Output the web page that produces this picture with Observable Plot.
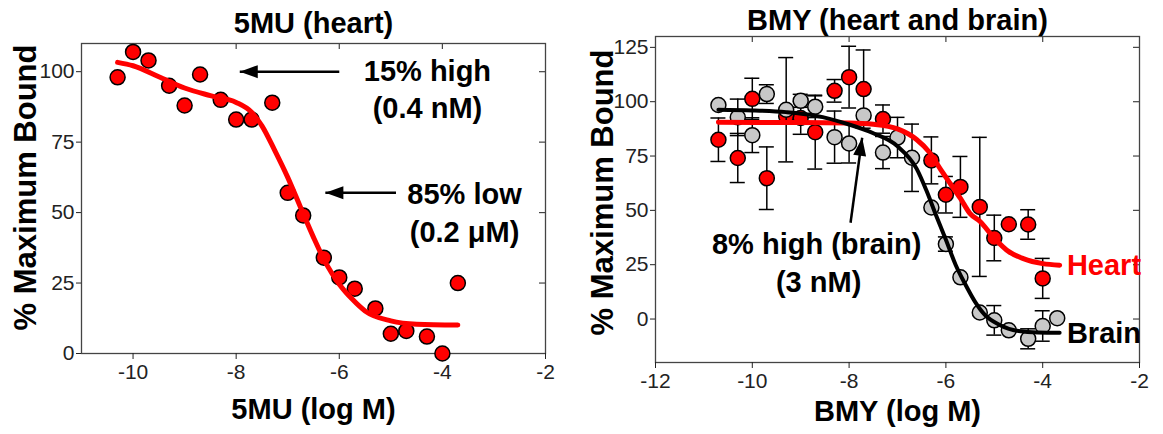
<!DOCTYPE html>
<html>
<head>
<meta charset="utf-8">
<script src="https://cdn.jsdelivr.net/npm/d3@7"></script>
<script src="https://cdn.jsdelivr.net/npm/@observablehq/plot@0.6"></script>
<style>
  html, body { margin: 0; padding: 0; background: #fff; }
  #root { position: relative; width: 1163px; height: 434px; overflow: hidden; }
  #root svg { position: absolute; top: 0; }
</style>
</head>
<body>
<div id="root"></div>
<script>
// ---------- Left panel: 5MU (heart) ----------
const fmuLogM = [-10.3, -10, -9.7, -9.3, -9, -8.7, -8.3, -8, -7.7, -7.3, -7, -6.7, -6.3, -6, -5.7, -5.3, -5, -4.7, -4.3, -4, -3.7];
const fmuBound = [98, 107, 104, 95, 88, 99, 90, 83, 83, 89, 57, 49, 34, 27, 23, 16, 7, 8, 6, 0, 25];
const fmuFitLogM = [-10.3, -10, -9.5, -9, -8.5, -8, -7.7, -7.5, -7.25, -7, -6.75, -6.5, -6.25, -6, -5.75, -5.5, -5, -4.5, -3.7];
const fmuFitBound = [103.3, 102.1, 98.2, 94.2, 91.5, 89.1, 85.6, 80.8, 72, 62.5, 51.8, 41.2, 31.7, 24.6, 19.3, 15.1, 11.6, 10.4, 10.1];
const fmuXTicks = [-10, -8, -6, -4, -2];
const fmuYTicks = [0, 25, 50, 75, 100];
const fmuNotes = ["15% high", "(0.4 nM)", "85% low", "(0.2 \u03BCM)"];
const fmuNoteX = [-4.29, -4.29, -3.57, -3.57];
const fmuNoteY = [100, 86.7, 56.2, 43];
const fmuArrowFrom = [[-6, 100], [-4.9, 57]];
const fmuArrowTo = [[-7.93, 100], [-6.27, 57]];

// ---------- Right panel: BMY (heart and brain) ----------
const bmyHeartLogM = [-10.7, -10.3, -10, -9.7, -9.3, -9, -8.7, -8.3, -8, -7.7, -7.3, -6.3, -6, -5.7, -5.3, -5, -4.7, -4.3, -4];
const bmyHeartBound = [82.5, 74.1, 101.3, 64.8, 93.3, 92.5, 86, 105, 111.3, 105.8, 92, 73, 57.2, 60.8, 51.6, 37.3, 43.6, 43.5, 18.7];
const bmyHeartErr = [10, 11.3, 9.5, 14.4, 0, 7.5, 17, 5.2, 14.2, 18, 6.5, 10.8, 8.4, 14, 32, 10.5, 0, 6.8, 9.2];
const bmyBrainLogM = [-10.7, -10.3, -10, -9.7, -9.3, -9, -8.7, -8.3, -8, -7.7, -7.3, -7, -6.7, -6.3, -6, -5.7, -5.3, -5, -4.7, -4.3, -4, -3.7];
const bmyBrainBound = [98.5, 92.8, 84.6, 103.5, 96.3, 100.4, 97.7, 83.7, 80.8, 93.7, 76.6, 83.5, 74.2, 51.3, 34.5, 19.2, 3.0, -0.6, -5.2, -9.1, -3.2, 0.4];
const bmyBrainErr = [0, 8.4, 8, 4.3, 24, 3, 5, 12, 9, 0, 7.4, 9.3, 15.5, 0, 3.3, 0, 0, 6.8, 0, 4.6, 7, 0];
const heartFitLogM = [-10.7, -9, -8, -7.5, -7, -6.6, -6.35, -6.1, -5.9, -5.7, -5.5, -5.3, -5, -4.7, -4.4, -4, -3.65];
const heartFitBound = [90.5, 90.4, 90.2, 89.6, 87.5, 82.5, 77, 68.5, 62, 55.5, 48.5, 45, 37.2, 31, 27.8, 25.5, 24.8];
const brainFitLogM = [-10.7, -10, -9.3, -8.7, -8, -7.5, -7, -6.6, -6.4, -6.2, -6, -5.8, -5.6, -5.4, -5.2, -4.9, -4.5, -4.1, -3.65];
const brainFitBound = [96.3, 96, 95.2, 93.6, 89.5, 85.5, 79.5, 69, 59, 47.5, 36.5, 25, 16, 8, 2, -2.6, -5.5, -6.2, -6.3];
const bmyXTicks = [-12, -10, -8, -6, -4, -2];
const bmyYTicks = [0, 25, 50, 75, 100, 125];
const bmyNotes = ["8% high (brain)", "(3 nM)"];
const bmyNoteX = [-8.67, -8.63];
const bmyNoteY = [34.1, 16.6];
const bmyArrowFrom = [-7.97, 44.3];
const bmyArrowTo = [-7.73, 83.4];
const seriesLabels = ["Heart", "Brain"];
const seriesLabelX = [-3.5, -3.5];
const seriesLabelY = [24.4, -6.9];

// ---------- helpers ----------
const FONT = '"Liberation Sans", Arial, Helvetica, sans-serif';
const RED = "#ff0000";
const GREY = "#c8c8c8";
const zip = (xs, ys, extra = {}) => xs.map((x, i) => {
  const o = {x, y: ys[i]};
  for (const k in extra) o[k] = extra[k][i];
  return o;
});
const arrowHead = {
  draw(ctx) {
    ctx.moveTo(0, 0);
    ctx.lineTo(18, -6.5);
    ctx.lineTo(18, 6.5);
    ctx.closePath();
  }
};
const fmt = d => String(d);
const tickStyle = {fontSize: 21, color: "#222", tickFormat: fmt, label: null};

function frameMarks(xTicksIn, yTicksIn, fw, fh) {
  return [
    Plot.tickX(xTicksIn, {x: d => d, insetBottom: fh - 6, stroke: "#444", strokeWidth: 1.2}),
    Plot.tickY(yTicksIn, {y: d => d, insetLeft: fw - 6, stroke: "#444", strokeWidth: 1.2}),
    Plot.frame({stroke: "#444", strokeWidth: 1.3})
  ];
}

function titleMarks(title, xTitle, titleDy, xTitleDy, yTitleDx, yTitleDy) {
  const bold = {fontWeight: "bold", fill: "#000", fontSize: 29, text: d => d, textAnchor: "middle"};
  return [
    Plot.text([title], {...bold, frameAnchor: "top", dy: titleDy, lineAnchor: "bottom"}),
    Plot.text([xTitle], {...bold, frameAnchor: "bottom", dy: xTitleDy, lineAnchor: "bottom"}),
    Plot.text(["% Maximum Bound"], {...bold, fontSize: 31, frameAnchor: "left", rotate: -90, dx: yTitleDx, dy: yTitleDy, lineAnchor: "bottom"})
  ];
}

// ---------- left plot ----------
const fmuPts = zip(fmuLogM, fmuBound);
const fmuFit = zip(fmuFitLogM, fmuFitBound);
const fmuNoteData = zip(fmuNoteX, fmuNoteY, {t: fmuNotes});
const fmuArrows = fmuArrowFrom.map((f, i) => ({x1: f[0], y1: f[1], x2: fmuArrowTo[i][0], y2: fmuArrowTo[i][1]}));

const left = Plot.plot({
  width: 590, height: 434,
  marginLeft: 81, marginRight: 45, marginTop: 43, marginBottom: 81,
  style: {fontFamily: FONT, background: "transparent", overflow: "visible"},
  x: {domain: [-11, -2]},
  y: {domain: [0, 110]},
  marks: [
    ...frameMarks([-10, -8, -6, -4], [25, 50, 75, 100], 464, 310),
    Plot.axisX(fmuXTicks, {...tickStyle, tickSize: 6, tickPadding: 5}),
    Plot.axisY(fmuYTicks, {...tickStyle, tickSize: 5, tickPadding: 2}),
    Plot.dot(fmuPts, {x: "x", y: "y", r: 7.5, fill: RED, stroke: "#000", strokeWidth: 1.5}),
    Plot.line(fmuFit, {x: "x", y: "y", stroke: RED, strokeWidth: 5, curve: "monotone-x"}),
    Plot.link(fmuArrows, {x1: "x1", y1: "y1", x2: "x2", y2: "y2", stroke: "#000", strokeWidth: 2.5}),
    Plot.dot(fmuArrows, {x: "x2", y: "y2", symbol: arrowHead, fill: "#000", stroke: "none"}),
    Plot.text(fmuNoteData, {x: "x", y: "y", text: "t", fontSize: 29, fontWeight: "bold", fill: "#000", textAnchor: "middle", lineAnchor: "middle"}),
    ...titleMarks("5MU (heart)", "5MU (log M)", -11, 65, -46, -11)
  ]
});
left.style.left = "0px";

// ---------- right plot ----------
const heartPts = zip(bmyHeartLogM, bmyHeartBound, {e: bmyHeartErr});
const brainPts = zip(bmyBrainLogM, bmyBrainBound, {e: bmyBrainErr});
const heartFit = zip(heartFitLogM, heartFitBound);
const brainFit = zip(brainFitLogM, brainFitBound);
const bmyNoteData = zip(bmyNoteX, bmyNoteY, {t: bmyNotes});
const labelData = zip(seriesLabelX, seriesLabelY, {t: seriesLabels, c: [RED, "#000"]});
const bmyArrow = [{x1: bmyArrowFrom[0], y1: bmyArrowFrom[1], x2: bmyArrowTo[0], y2: bmyArrowTo[1]}];

function errorBars(pts) {
  const d = pts.filter(p => p.e > 0);
  const st = {stroke: "#000", strokeWidth: 1.5};
  return [
    Plot.ruleX(d, {x: "x", y1: p => p.y - p.e, y2: p => p.y + p.e, ...st}),
    Plot.ruleY(d, {y: p => p.y + p.e, x1: "x", x2: "x", insetLeft: -7.5, insetRight: -7.5, ...st}),
    Plot.ruleY(d, {y: p => p.y - p.e, x1: "x", x2: "x", insetLeft: -7.5, insetRight: -7.5, ...st})
  ];
}

const right = Plot.plot({
  width: 573, height: 434,
  marginLeft: 65, marginRight: 24, marginTop: 36, marginBottom: 72,
  style: {fontFamily: FONT, background: "transparent", overflow: "visible"},
  x: {domain: [-12, -2]},
  y: {domain: [-20, 130]},
  marks: [
    ...frameMarks([-10, -8, -6, -4], [0, 25, 50, 75, 100, 125], 484, 326),
    Plot.axisX(bmyXTicks, {...tickStyle, tickSize: 6, tickPadding: 5}),
    Plot.axisY(bmyYTicks, {...tickStyle, tickSize: 5, tickPadding: 2}),
    ...errorBars(heartPts),
    Plot.dot(heartPts, {x: "x", y: "y", r: 7.5, fill: RED, stroke: "#000", strokeWidth: 1.5}),
    ...errorBars(brainPts),
    Plot.dot(brainPts, {x: "x", y: "y", r: 7.5, fill: GREY, stroke: "#000", strokeWidth: 1.5}),
    Plot.line(heartFit, {x: "x", y: "y", stroke: RED, strokeWidth: 5, curve: "monotone-x"}),
    Plot.line(brainFit, {x: "x", y: "y", stroke: "#000", strokeWidth: 4, curve: "monotone-x"}),
    Plot.link(bmyArrow, {x1: "x1", y1: "y1", x2: "x2", y2: "y2", stroke: "#000", strokeWidth: 2.5}),
    Plot.dot(bmyArrow, {x: "x2", y: "y2", symbol: arrowHead, rotate: 98, fill: "#000", stroke: "none"}),
    Plot.text(bmyNoteData, {x: "x", y: "y", text: "t", fontSize: 29, fontWeight: "bold", fill: "#000", textAnchor: "middle", lineAnchor: "middle"}),
    Plot.text(labelData, {x: "x", y: "y", text: "t", fill: "c", fontSize: 29, fontWeight: "bold", textAnchor: "start", lineAnchor: "middle"}),
    ...titleMarks("BMY (heart and brain)", "BMY (log M)", -7, 58, -43, -7)
  ]
});
right.style.left = "590px";

const root = document.getElementById("root");
root.appendChild(left);
root.appendChild(right);
</script>
</body>
</html>
